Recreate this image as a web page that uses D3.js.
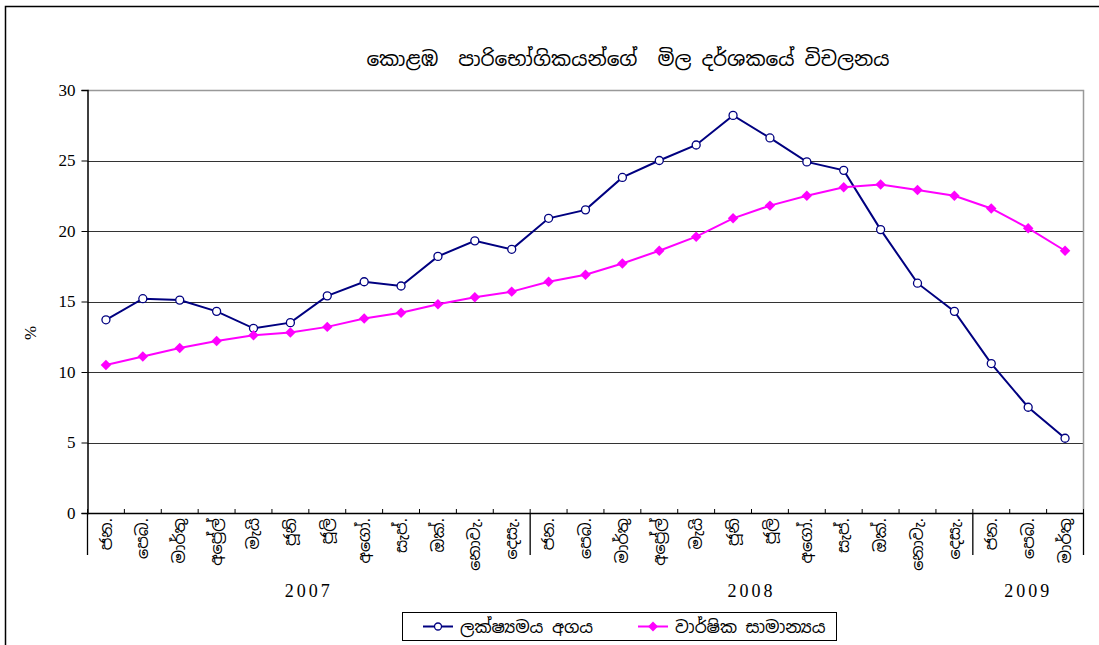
<!DOCTYPE html>
<html><head><meta charset="utf-8">
<script src="https://cdn.jsdelivr.net/npm/d3@7"></script>
<style>body{margin:0;background:#fff}</style>
</head><body>
<svg id="c" width="1099" height="645"></svg>
<script>
const title = "කොළඹ  පාරිභෝගිකයන්ගේ  මිල දර්ශකයේ විචලනය";
const months = ["ජන.","පෙබ.","මාර්තු","අප්‍රේල්","මැයි","ජූනි","ජූලි","අගෝ.","සැප්.","ඔක්.","නොවැ.","දෙසැ.",
                "ජන.","පෙබ.","මාර්තු","අප්‍රේල්","මැයි","ජූනි","ජූලි","අගෝ.","සැප්.","ඔක්.","නොවැ.","දෙසැ.",
                "ජන.","පෙබ.","මාර්තු"];
const years = [{label:"2007", n:12},{label:"2008", n:12},{label:"2009", n:3}];
const pointToPoint = [13.7,15.2,15.1,14.3,13.1,13.5,15.4,16.4,16.1,18.2,19.3,18.7,
                      20.9,21.5,23.8,25.0,26.1,28.2,26.6,24.9,24.3,20.1,16.3,14.3,10.6,7.5,5.3];
const annualAvg = [10.5,11.1,11.7,12.2,12.6,12.8,13.2,13.8,14.2,14.8,15.3,15.7,
                   16.4,16.9,17.7,18.6,19.6,20.9,21.8,22.5,23.1,23.3,22.9,22.5,21.6,20.2,18.6];
const yTicks = [0,5,10,15,20,25,30];
const seriesNames = ["ලක්ෂ්‍යමය අගය","වාර්ෂික සාමාන්‍යය"];

const svg = d3.select("#c");
const sinh = "'Noto Sans Sinhala','Iskoola Pota','Noto Serif Sinhala',sans-serif";
const serif = "'Liberation Serif','Times New Roman','DejaVu Serif',serif";
const L=87.5, R=1083.5, T=90, B=513;

// outer border
svg.append("rect").attr("x",5.5).attr("y",6.5).attr("width",1200).attr("height",700)
  .attr("fill","none").attr("stroke","#000").attr("stroke-width",1.5);

const x = d3.scaleBand().domain(d3.range(months.length)).range([L,R]);
const y = d3.scaleLinear().domain([0,30]).range([B,T]);

// title
svg.append("text").attr("x",628).attr("y",66).attr("text-anchor","middle")
  .style("white-space","pre").attr("xml:space","preserve")
  .style("font-family",sinh).style("font-size","20px").text(title);

// gridlines
svg.append("g").selectAll("line").data(yTicks.filter(d=>d>0)).join("line")
  .attr("x1",L).attr("x2",R).attr("y1",d=>Math.round(y(d))+0.5).attr("y2",d=>Math.round(y(d))+0.5)
  .attr("stroke","#333").attr("stroke-width",1.2);
// plot border top/right
svg.append("path").attr("d",`M${L},${T+0.5}H${R}V${B}`).attr("fill","none").attr("stroke","#999").attr("stroke-width",1.5);

// y axis
const ya = svg.append("g").attr("transform",`translate(${L},0)`)
  .call(d3.axisLeft(y).tickValues(yTicks).tickSize(6).tickPadding(6));
ya.attr("font-family",null);
ya.select(".domain").attr("stroke","#000").attr("stroke-width",1.5);
ya.selectAll(".tick line").attr("stroke","#000");
ya.selectAll("text").attr("font-family",serif).style("font-family",serif).style("font-size","17px").attr("fill","#000");

svg.append("text").attr("transform","translate(30,333) rotate(-90)").attr("text-anchor","middle")
  .attr("dy","0.35em").style("font-family",serif).style("font-size","17px").text("%");

// x axis line
svg.append("line").attr("x1",L).attr("x2",R).attr("y1",B+0.5).attr("y2",B+0.5).attr("stroke","#000").attr("stroke-width",1.5);
// inner ticks at category boundaries
svg.append("g").selectAll("line").data(d3.range(months.length+1)).join("line")
  .attr("x1",i=>L+i*x.step()).attr("x2",i=>L+i*x.step()).attr("y1",B-4).attr("y2",B)
  .attr("stroke","#000");
// group separators
let acc=0; const bounds=[0];
years.forEach(g=>{acc+=g.n; bounds.push(acc);});
svg.append("g").selectAll("line").data(bounds).join("line")
  .attr("x1",i=>L+i*x.step()).attr("x2",i=>L+i*x.step()).attr("y1",B).attr("y2",B+42)
  .attr("stroke","#000").attr("stroke-width",1.3);
// month labels
svg.append("g").selectAll("text").data(months).join("text")
  .attr("transform",(d,i)=>`translate(${x(i)+x.bandwidth()/2},${B+5}) rotate(-90)`)
  .attr("text-anchor","end").attr("dy","0.35em")
  .style("font-family",sinh).style("font-size","16px").text(d=>d);
// year labels
svg.append("g").selectAll("text").data(years).join("text")
  .attr("x",(d,i)=>(L+bounds[i]*x.step()+L+bounds[i+1]*x.step())/2)
  .attr("y",597).attr("text-anchor","middle")
  .style("font-family",serif).style("font-size","18px").style("letter-spacing","3px").text(d=>d.label);

// lines
const line = d3.line().x((d,i)=>x(i)+x.bandwidth()/2).y(d=>y(d));
svg.append("path").datum(pointToPoint).attr("d",line).attr("fill","none").attr("stroke","#000080").attr("stroke-width",2);
svg.append("path").datum(annualAvg).attr("d",line).attr("fill","none").attr("stroke","#ff00ff").attr("stroke-width",2);
svg.append("g").selectAll("circle").data(pointToPoint).join("circle")
  .attr("cx",(d,i)=>x(i)+x.bandwidth()/2).attr("cy",d=>y(d)).attr("r",4)
  .attr("fill","#fff").attr("stroke","#000080").attr("stroke-width",1.3);
svg.append("g").selectAll("path").data(annualAvg).join("path")
  .attr("transform",(d,i)=>`translate(${x(i)+x.bandwidth()/2},${y(d)}) rotate(45)`)
  .attr("d",d3.symbol().type(d3.symbolSquare).size(55)).attr("fill","#ff00ff");

// legend
svg.append("rect").attr("x",402.5).attr("y",612.5).attr("width",434).attr("height",28)
  .attr("fill","#fff").attr("stroke","#000").attr("stroke-width",1);
const lg = [{c:"#000080",x:423,t:seriesNames[0],m:"circle"},{c:"#ff00ff",x:638,t:seriesNames[1],m:"diamond"}];
lg.forEach(o=>{
  svg.append("line").attr("x1",o.x).attr("x2",o.x+30).attr("y1",626.5).attr("y2",626.5).attr("stroke",o.c).attr("stroke-width",2);
  if(o.m==="circle") svg.append("circle").attr("cx",o.x+15).attr("cy",626.5).attr("r",3.5).attr("fill","#fff").attr("stroke",o.c).attr("stroke-width",1.3);
  else svg.append("path").attr("transform",`translate(${o.x+15},626.5) rotate(45)`).attr("d",d3.symbol().type(d3.symbolSquare).size(50)).attr("fill",o.c);
  svg.append("text").attr("x",o.x+37).attr("y",627).attr("dy","0.35em")
    .style("font-family",sinh).style("font-size","17px").text(o.t);
});
</script>
</body></html>
